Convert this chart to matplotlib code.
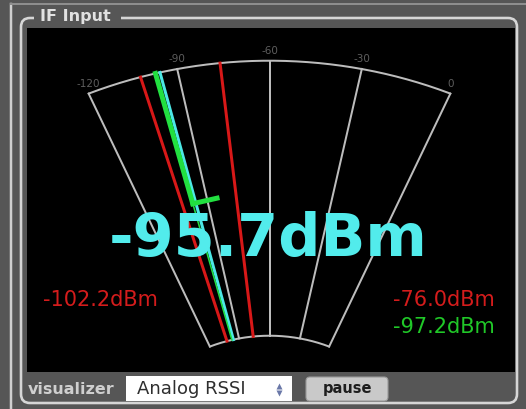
import numpy as np
import matplotlib
matplotlib.use('Agg')
import matplotlib.pyplot as plt
from matplotlib.patches import Rectangle, FancyBboxPatch

# meter readings (dBm)
scale_ticks = [-120, -90, -60, -30, 0]
tick_labels = ['-120', '-90', '-60', '-30', '0']
min_max = [-102.2, -76.0]      # red markers
average = -97.2                # green marker
current = -95.7                # cyan needle
current_label = '-95.7dBm'
min_label = '-102.2dBm'
max_label = '-76.0dBm'
avg_label = '-97.2dBm'

# meter geometry in pixel space
CX, CY = 269.5, 471
R_OUT, R_IN, R_MARK = 461, 152, 310
K = 0.89           # vertical squash of the screenshot
HALF_SPAN = 23.1   # degrees for 60 dB


def polar(v, r):
    a = np.deg2rad((np.asarray(v, dtype=float) + 60) / 60.0 * HALF_SPAN)
    r = np.asarray(r, dtype=float)
    return CX + r * np.sin(a), CY - K * r * np.cos(a)


W, H = 526, 409
fig = plt.figure(figsize=(W / 100, H / 100), dpi=100, facecolor='#565656')
ax = fig.add_axes([0, 0, 1, 1])
ax.set_xlim(0, W)
ax.set_ylim(H, 0)
ax.axis('off')
px = 72 / 100  # points per pixel

# window chrome
ax.plot([11, 11], [4, H], color='#cfcfcf', lw=2.5 * px)
ax.plot([11, W], [4, 4], color='#8e8e8e', lw=2 * px)
ax.add_patch(Rectangle((27, 28), 488, 344, facecolor='black', edgecolor='none'))
ax.add_patch(FancyBboxPatch((21, 18), 496, 385, boxstyle='round,pad=0,rounding_size=9',
                            facecolor='none', edgecolor='#d6d6d6', lw=2.6 * px))
ax.add_patch(Rectangle((34, 12), 87, 12, facecolor='#565656', edgecolor='none'))
ax.text(40, 21, 'IF Input', color='#e2e2e2', fontsize=11.5, fontweight='bold', va='baseline')

# scale arcs and grid lines
vv = np.linspace(scale_ticks[0], scale_ticks[-1], 200)
for r in (R_OUT, R_IN):
    x, y = polar(vv, r)
    ax.plot(x, y, color='#bdbdbd', lw=2 * px, solid_capstyle='round')
for v, lab in zip(scale_ticks, tick_labels):
    x, y = polar([v, v], [R_OUT, R_IN])
    ax.plot(x, y, color='#bdbdbd', lw=2 * px)
    ax.text(x[0], y[0] - 10, lab, color='#5e5e5e', fontsize=7.5, ha='center', va='center')

# min / max markers
for v in min_max:
    x, y = polar([v, v], [R_OUT, R_IN])
    ax.plot(x, y, color='#d81818', lw=3 * px)

# current needle
x, y = polar([current, current], [R_OUT, R_IN])
ax.plot(x, y, color='#4ce8e6', lw=3 * px)

# average marker
x, y = polar([average, average], [R_OUT, R_IN])
ax.plot(x, y, color='#22dd44', lw=1.6 * px)
x, y = polar([average, average], [R_OUT, R_MARK])
ax.plot(x, y, color='#22e040', lw=5 * px)
a = np.deg2rad((average + 60) / 60.0 * HALF_SPAN)
ax.plot([x[1], x[1] + 25 * np.cos(a)], [y[1], y[1] + 25 * K * np.sin(a)],
        color='#22e040', lw=5 * px)

# readouts
ax.text(268, 256, current_label, color='#52ecec', fontsize=42.5, fontweight='bold',
        ha='center', va='baseline')
ax.text(43, 306, min_label, color='#d41c1c', fontsize=15, ha='left', va='baseline')
ax.text(495, 306, max_label, color='#d41c1c', fontsize=15, ha='right', va='baseline')
ax.text(495, 333, avg_label, color='#20c828', fontsize=15, ha='right', va='baseline')

# bottom controls
ax.text(28, 394, 'visualizer', color='#cfcfcf', fontsize=11.5, fontweight='bold', va='baseline')
ax.add_patch(Rectangle((126, 376), 166, 25, facecolor='white', edgecolor='none'))
ax.text(137, 394, 'Analog RSSI', color='#2e2e2e', fontsize=13, va='baseline')
ax.plot([279], [385.5], marker='^', color='#6a78a8', markersize=4, mec='none')
ax.plot([279], [392.5], marker='v', color='#6a78a8', markersize=4, mec='none')
ax.add_patch(FancyBboxPatch((306, 377), 82, 24, boxstyle='round,pad=0,rounding_size=4',
                            facecolor='#c9c9c9', edgecolor='#9a9a9a', lw=0.8))
ax.text(347, 393, 'pause', color='#1e1e1e', fontsize=10.5, fontweight='bold',
        ha='center', va='baseline')

fig.savefig('out.png', dpi=100, facecolor=fig.get_facecolor())
